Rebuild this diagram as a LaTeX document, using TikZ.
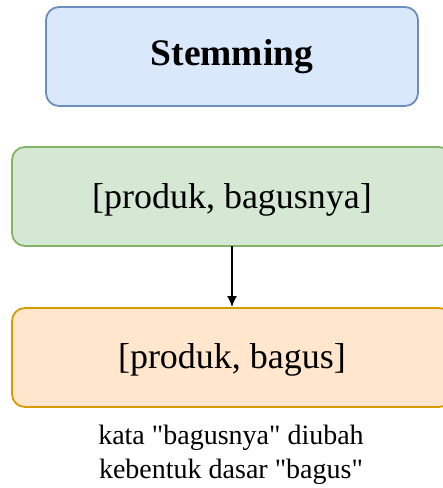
\documentclass[tikz,border=0pt]{standalone}
\usepackage{fontspec}
\setmainfont{Liberation Serif}
\usetikzlibrary{arrows.meta}
\begin{document}
\begin{tikzpicture}[x=1pt,y=-1pt,
  panel/.style={rounded corners=13pt, line width=1.8pt},
  bluebox/.style={panel, draw=stemBlueLine, fill=stemBlue},
  greenbox/.style={panel, draw=stemGreenLine, fill=stemGreen},
  orangebox/.style={panel, draw=stemOrangeLine, fill=stemOrange},
  lbl/.style={font=\fontsize{36}{40}\selectfont, inner sep=0pt},
  note/.style={font=\fontsize{28}{33.5}\selectfont, align=center, inner sep=0pt},
  link/.style={line width=1.4pt, -{Latex[length=11pt,width=10pt]}}
]
\definecolor{stemBlue}{HTML}{DAE8FC}
\definecolor{stemBlueLine}{HTML}{6C8EBF}
\definecolor{stemGreen}{HTML}{D5E8D4}
\definecolor{stemGreenLine}{HTML}{82B366}
\definecolor{stemOrange}{HTML}{FFE6CC}
\definecolor{stemOrangeLine}{HTML}{D79B00}
\useasboundingbox (0,0) rectangle (443,488);

% boxes
\draw[bluebox] (46,7) rectangle (418,106);
\node[lbl, font=\fontsize{37.5}{40}\selectfont\bfseries] (stem) at (232,57) {Stemming};

\draw[greenbox] (12,147) rectangle (452,246);
\coordinate (gtop) at (232,147);
\coordinate (gbot) at (232,246);
\node[lbl] (words) at (232,200) {[produk, bagusnya]};

\draw[orangebox] (12,308) rectangle (452,407);
\coordinate (otop) at (232,307);
\node[lbl] (stemmed) at (232,360) {[produk, bagus]};

% connector
\draw[link] (gbot) -- (otop);

% note
\node[note] (expl) at (231,455) {kata \textquotedbl bagusnya\textquotedbl{} diubah\\kebentuk dasar \textquotedbl bagus\textquotedbl};
\end{tikzpicture}
\end{document}
